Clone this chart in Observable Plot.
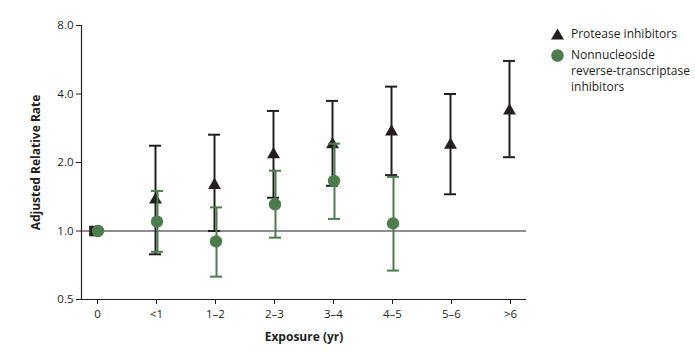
<!DOCTYPE html>
<html>
<head>
<meta charset="utf-8">
<script src="https://cdn.jsdelivr.net/npm/d3@7"></script>
<script src="https://cdn.jsdelivr.net/npm/@observablehq/plot@0.6"></script>
<style>
  body { margin: 0; background: #fff; }
  #wrap { position: relative; width: 695px; height: 353px; font-family: "Open Sans", "Noto Sans", sans-serif; }
  #legend { position: absolute; left: 551px; top: 26px; font-size: 12px; color: #231f20; line-height: 16px; }
  .item { display: flex; align-items: flex-start; margin-bottom: 5px; }
  .sym { width: 20px; flex: none; }
</style>
</head>
<body>
<div id="wrap">
  <div id="chart"></div>
  <div id="legend">
    <div class="item"><svg class="sym" width="20" height="16"><path d="M6.5,2.5 L13,13.5 L0,13.5 Z" fill="#231f20"/></svg><span>Protease inhibitors</span></div>
    <div class="item"><svg class="sym" width="20" height="16"><circle cx="6.5" cy="8.5" r="6.3" fill="#4b7d4d"/></svg><span>Nonnucleoside<br>reverse-transcriptase<br>inhibitors</span></div>
  </div>
</div>
<script>
const categories = ["0", "<1", "1\u20132", "2\u20133", "3\u20134", "4\u20135", "5\u20136", ">6"];
const piRate = [1.0, 1.37, 1.59, 2.17, 2.40, 2.73, 2.39, 3.38];
const piLow  = [null, 0.79, 1.00, 1.40, 1.58, 1.76, 1.45, 2.11];
const piHigh = [null, 2.37, 2.65, 3.37, 3.73, 4.31, 4.00, 5.59];
const nnRate = [1.0, 1.10, 0.90, 1.31, 1.66, 1.08, null, null];
const nnLow  = [null, 0.81, 0.63, 0.935, 1.13, 0.67, null, null];
const nnHigh = [null, 1.50, 1.27, 1.84, 2.42, 1.73, null, null];
const yTicks = [0.5, 1, 2, 4, 8];

const BLACK = "#231f20";
const GREEN = "#4b7d4d";

const pi = categories.map((c, i) => ({cat: c, rate: piRate[i], low: piLow[i], high: piHigh[i], ref: i === 0}));
const nn = categories.map((c, i) => ({cat: c, rate: nnRate[i], low: nnLow[i], high: nnHigh[i]})).filter(d => d.rate != null);
const piCI = pi.filter(d => d.low != null);
const nnCI = nn.filter(d => d.low != null);

const chart = Plot.plot({
  width: 695,
  height: 353,
  marginLeft: 81,
  marginRight: 169,
  marginTop: 25,
  marginBottom: 54,
  style: {fontFamily: "'Open Sans', 'Noto Sans', sans-serif", fontSize: "11.5px", color: "#231f20", background: "#fff"},
  x: {type: "band", domain: categories, paddingInner: 0.8, paddingOuter: 0.17},
  y: {type: "log", base: 2, domain: [0.5, 8]},
  marks: [
    Plot.frame({anchor: "left", stroke: BLACK, strokeWidth: 1.2}),
    Plot.ruleY([0.5], {stroke: BLACK, strokeWidth: 1.2}),
    Plot.ruleY([1], {stroke: BLACK, strokeWidth: 1.2}),
    Plot.axisY({ticks: yTicks, tickFormat: d3.format(".1f"), tickSize: 5, tickPadding: 3,
      label: "Adjusted Relative Rate", labelAnchor: "center", labelArrow: "none", labelOffset: 50,
      fontSize: 11.5}),
    Plot.axisX({tickSize: 5, tickPadding: 5, label: "Exposure (yr)", labelAnchor: "center", labelArrow: "none", labelOffset: 41, fontSize: 11.5}),
    // protease inhibitors
    Plot.ruleX(piCI, {x: "cat", y1: "low", y2: "high", stroke: BLACK, strokeWidth: 2, dx: -1}),
    Plot.tickY(piCI, {x: "cat", y: "low", stroke: BLACK, strokeWidth: 2, dx: -1}),
    Plot.tickY(piCI, {x: "cat", y: "high", stroke: BLACK, strokeWidth: 2, dx: -1}),
    Plot.dot(pi.filter(d => !d.ref), {x: "cat", y: "rate", symbol: "triangle", r: 4.8, fill: BLACK, dx: -1}),
    Plot.dot(pi.filter(d => d.ref), {x: "cat", y: "rate", symbol: "square", r: 6, fill: BLACK, dx: -3}),
    // NNRTI
    Plot.ruleX(nnCI, {x: "cat", y1: "low", y2: "high", stroke: GREEN, strokeWidth: 2, dx: 1}),
    Plot.tickY(nnCI, {x: "cat", y: "low", stroke: GREEN, strokeWidth: 2, dx: 1}),
    Plot.tickY(nnCI, {x: "cat", y: "high", stroke: GREEN, strokeWidth: 2, dx: 1}),
    Plot.dot(nn, {x: "cat", y: "rate", r: 6.2, fill: GREEN, dx: 0.5})
  ]
});
document.getElementById("chart").appendChild(chart);
chart.querySelectorAll("g[aria-label='y-axis label'] text, g[aria-label='x-axis label'] text").forEach(t => {
  t.setAttribute("font-weight", "bold");
  t.setAttribute("font-size", "12px");
});
</script>
</body>
</html>
